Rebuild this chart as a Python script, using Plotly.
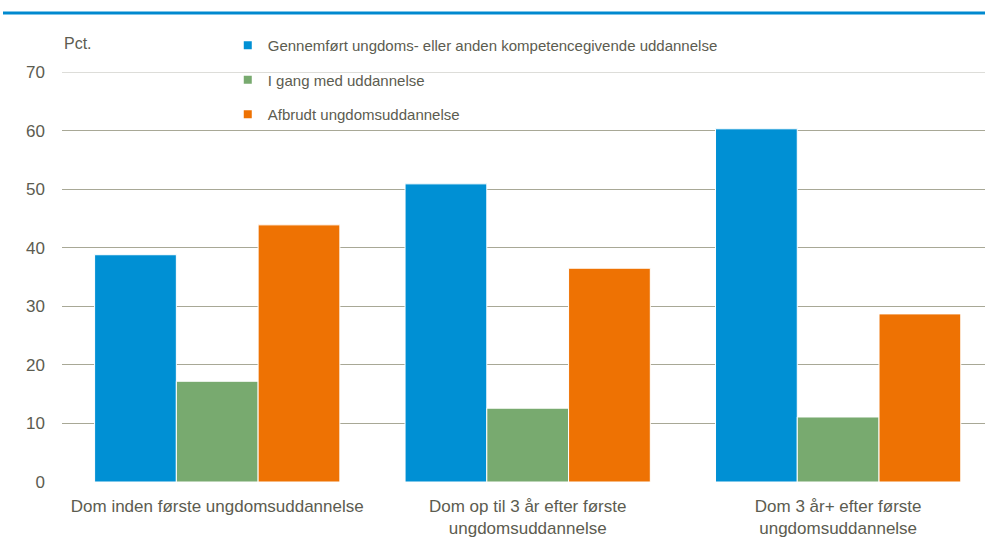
import plotly.graph_objects as go

categories = ["Dom inden første ungdomsuddannelse",
              "Dom op til 3 år efter første<br>ungdomsuddannelse",
              "Dom 3 år+ efter første<br>ungdomsuddannelse"]
series_names = ["Gennemført ungdoms- eller anden kompetencegivende uddannelse",
                "I gang med uddannelse",
                "Afbrudt ungdomsuddannelse"]
completed = [38.8, 50.9, 60.3]
ongoing = [17.2, 12.6, 11.1]
dropped = [43.9, 36.5, 28.7]
y_ticks = [0, 10, 20, 30, 40, 50, 60, 70]

colors = ["#0090d4", "#78aa6f", "#ee7203"]
FONT = "Liberation Sans Narrow, Arial Narrow, Liberation Sans, Arial"
TXT = "#5c5c50"

fig = go.Figure()
for i, (name, vals) in enumerate(zip(series_names, [completed, ongoing, dropped])):
    fig.add_trace(go.Bar(
        x=list(range(len(categories))), y=vals, name=name,
        marker=dict(color=colors[i], line=dict(color="white", width=1)),
        showlegend=False,
    ))
for i, name in enumerate(series_names):
    fig.add_trace(go.Scatter(
        x=[None], y=[None], mode="markers", name=name,
        marker=dict(symbol="square", size=8, color=colors[i]),
        legendgroup=f"g{i}", showlegend=True,
    ))

fig.update_layout(
    width=985, height=543,
    margin=dict(l=62, r=0, t=72, b=61, autoexpand=False),
    paper_bgcolor="white", plot_bgcolor="white",
    barmode="group", bargap=0.21, bargroupgap=0,
    font=dict(family=FONT, size=16, color=TXT),
    showlegend=True,
    legend=dict(x=0.1796, y=1.105, xanchor="left", yanchor="top",
                font=dict(family=FONT, size=15, color=TXT),
                tracegroupgap=12, bgcolor="rgba(0,0,0,0)",
                itemwidth=30),
    xaxis=dict(range=[-0.5, 2.473], tickvals=[0, 1, 2], ticktext=categories,
               showgrid=False, zeroline=False, showline=False, ticks="",
               automargin=False, ticklabelstandoff=12,
               tickfont=dict(family=FONT, size=17, color=TXT)),
    yaxis=dict(range=[0, 70], tickvals=y_ticks, showgrid=True,
               gridcolor="#a8a896", gridwidth=1, zeroline=False,
               showline=False, ticks="", ticklabelstandoff=16,
               automargin=False,
               tickfont=dict(family=FONT, size=17, color=TXT)),
    annotations=[dict(text="Pct.", xref="paper", yref="paper", x=0.0, y=1.043,
                      xanchor="left", yanchor="bottom", showarrow=False,
                      font=dict(family=FONT, size=16, color=TXT))],
    shapes=[dict(type="line", xref="paper", yref="paper",
                 x0=-59/923, x1=1.0, y0=(482-13)/410, y1=(482-13)/410,
                 line=dict(color="#0089cf", width=3)),
            dict(type="line", xref="paper", yref="y", layer="below",
                 x0=0, x1=1, y0=y_ticks[-1], y1=y_ticks[-1],
                 line=dict(color="#d2d2cc", width=1.5))],
)

fig.write_html("out.html", config={"displayModeBar": False},
               post_script="document.body.style.margin='0';")
